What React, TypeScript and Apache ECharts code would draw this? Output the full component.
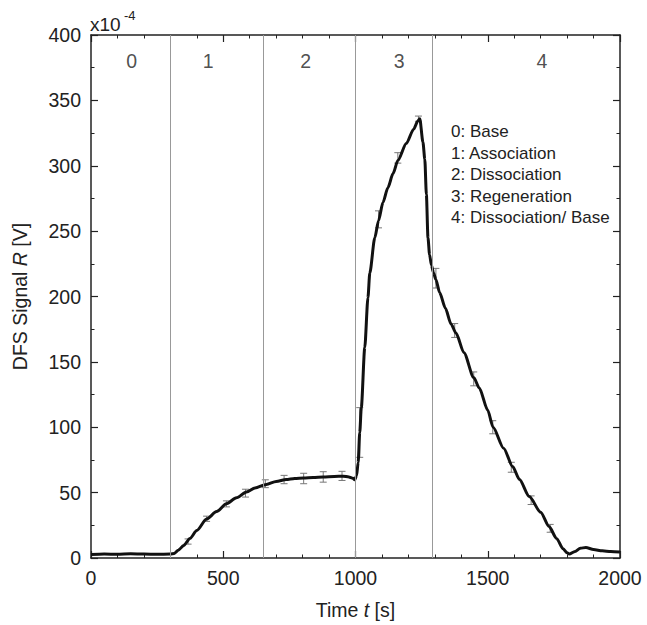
import React, { useEffect, useRef } from 'react';
import * as echarts from 'echarts';

// Time t [s] and DFS signal R [x10^-4 V] along the measured curve
const curveT = [
  0, 50, 100, 150, 200, 250, 300, 315, 330, 350, 374, 400, 437, 475, 512, 550, 588, 620,
  663, 700, 738, 770, 804, 840, 878, 920, 953, 975, 990, 997, 1004, 1010, 1016, 1022, 1035,
  1047, 1054, 1073, 1087, 1104, 1122, 1142, 1160, 1192, 1220, 1235, 1243, 1255, 1262, 1268,
  1274, 1280, 1287, 1295, 1304, 1318, 1340, 1361, 1380, 1410, 1447, 1468, 1500, 1520, 1560,
  1594, 1620, 1657, 1700, 1732, 1760, 1785, 1800, 1808, 1830, 1850, 1871, 1900, 1933, 1965, 2000,
];
const curveR = [
  2.6, 3.0, 2.8, 3.2, 3.0, 2.8, 3.0, 3.5, 6, 9.5, 15, 21, 29.8, 35.5, 41.5, 46, 50.5, 53.5,
  56.3, 58.5, 60, 60.8, 61.1, 61.5, 62, 62.4, 62.6, 62, 61, 59.8, 63, 73, 96, 115, 161,
  199, 218, 245, 258, 272, 283, 294, 304, 317, 328, 334, 336, 318, 305, 278,
  245, 232, 224, 218, 213, 203, 191, 179, 172, 157, 138, 130, 113, 100, 84,
  70, 60, 47, 35, 24, 15, 7, 4, 3, 5, 7.5, 8, 6.5, 5.5, 5, 4.5,
];

// Error bars: time, mean, half-range
const errT = [367, 437, 512, 584, 659, 730, 804, 878, 949, 1016, 1087, 1160, 1238, 1304, 1375, 1447, 1519, 1589, 1664, 1736];
const errMean = [12.6, 30, 41.4, 49.6, 56.8, 60, 60.8, 62, 62.8, 96, 259, 306, 336, 214, 174, 137, 100, 69.4, 44.2, 22.7];
const errDev = [2, 2, 2.3, 3, 3, 3.2, 4, 4, 3.5, 19, 6.5, 4, 2, 7.5, 5.3, 5.3, 5, 3.8, 3.3, 3];

// Phase boundaries and labels
const phaseBoundaries = [300, 650, 1000, 1290];
const phaseLabelT = [154, 443, 812, 1165, 1705];
const phaseLabels = ['0', '1', '2', '3', '4'];
const phaseLabelR = 380;

const legendLines = ['0: Base', '1: Association', '2: Dissociation', '3: Regeneration', '4: Dissociation/ Base'];

const X_MIN = 0, X_MAX = 2000, X_INT = 500;
const Y_MIN = 0, Y_MAX = 400, Y_INT = 50;

const FONT = "'Liberation Sans', Arial, Helvetica, sans-serif";
const TEXT = '#222';
const TICK_FS = 19.5;

export default function App() {
  const ref = useRef<HTMLDivElement>(null);
  useEffect(() => {
    if (!ref.current) return;
    const chart = echarts.init(ref.current, null, { renderer: 'svg' });
    const axisLine = { show: true, onZero: false, lineStyle: { color: '#222', width: 1.5 } };
    const xBase = {
      type: 'value' as const, min: X_MIN, max: X_MAX, interval: X_INT,
      axisLine,
      axisTick: { show: true, inside: true, length: 7, lineStyle: { color: '#222', width: 1.2 } },
      minorTick: { show: true, splitNumber: 5, length: 3.5, lineStyle: { color: '#222', width: 1 } },
      splitLine: { show: false },
    };
    const yBase = {
      type: 'value' as const, min: Y_MIN, max: Y_MAX, interval: Y_INT,
      axisLine,
      axisTick: { show: true, inside: true, length: 7, lineStyle: { color: '#222', width: 1.2 } },
      minorTick: { show: true, splitNumber: 2, length: 3.5, lineStyle: { color: '#222', width: 1 } },
      splitLine: { show: false },
    };
    const option: any = {
      animation: false,
      backgroundColor: '#fff',
      textStyle: { fontFamily: FONT },
      grid: { left: 91, right: 27, top: 35, bottom: 62 },
      xAxis: [
        {
          ...xBase, position: 'bottom',
          axisLabel: {
            show: true, fontSize: TICK_FS, color: TEXT, margin: 10, fontFamily: FONT,
            formatter: (v: number) => String(v),
          },
          name: '{n|Time }{i|t}{n| [s]}', nameLocation: 'middle', nameGap: 42,
          nameTextStyle: {
            rich: {
              n: { fontSize: 19.5, color: TEXT, fontFamily: FONT },
              i: { fontSize: 19.5, color: TEXT, fontFamily: FONT, fontStyle: 'italic' },
            },
          },
        },
        { ...xBase, position: 'top', axisLabel: { show: false } },
      ],
      yAxis: [
        {
          ...yBase, position: 'left',
          axisLabel: {
            show: true, fontSize: TICK_FS, color: TEXT, margin: 10, fontFamily: FONT,
            formatter: (v: number) => String(v),
          },
          name: '{n|DFS Signal }{i|R}{n| [V]}', nameLocation: 'middle', nameGap: 61,
          nameTextStyle: {
            rich: {
              n: { fontSize: 19.5, color: TEXT, fontFamily: FONT },
              i: { fontSize: 19.5, color: TEXT, fontFamily: FONT, fontStyle: 'italic' },
            },
          },
        },
        { ...yBase, position: 'right', axisLabel: { show: false } },
      ],
      graphic: [
        { type: 'text', left: 90, top: 15, style: { text: 'x10', font: `19px ${FONT}`, fill: TEXT } },
        { type: 'text', left: 124, top: 9, style: { text: '-4', font: `13px ${FONT}`, fill: TEXT } },
        {
          type: 'text', left: 451, top: 121,
          style: { text: legendLines.join('\n'), font: `17px ${FONT}`, lineHeight: 21.5, fill: TEXT },
        },
      ],
      series: [
        {
          type: 'custom',
          xAxisIndex: 0, yAxisIndex: 0,
          data: errT.map((t, i) => [t, errMean[i], errDev[i]]),
          encode: { x: 0, y: 1 },
          silent: true,
          renderItem: (params: any, api: any) => {
            const t = api.value(0), m = api.value(1), e = api.value(2);
            const top = api.coord([t, m + e]);
            const bot = api.coord([t, m - e]);
            const w = 3.5;
            const style = { stroke: '#777', lineWidth: 1 };
            return {
              type: 'group',
              children: [
                { type: 'line', shape: { x1: top[0], y1: top[1], x2: bot[0], y2: bot[1] }, style },
                { type: 'line', shape: { x1: top[0] - w, y1: top[1], x2: top[0] + w, y2: top[1] }, style },
                { type: 'line', shape: { x1: bot[0] - w, y1: bot[1], x2: bot[0] + w, y2: bot[1] }, style },
              ],
            };
          },
          z: 2,
        },
        {
          type: 'line',
          xAxisIndex: 0, yAxisIndex: 0,
          data: curveT.map((t, i) => [t, curveR[i]]),
          showSymbol: false,
          smooth: 0.25,
          smoothMonotone: 'x',
          lineStyle: { color: '#111', width: 3 },
          silent: true,
          z: 3,
          markLine: {
            silent: true,
            symbol: 'none',
            label: { show: false },
            lineStyle: { color: '#999', width: 1, type: 'solid' },
            data: phaseBoundaries.map((x) => ({ xAxis: x })),
          },
        },
        {
          type: 'scatter',
          xAxisIndex: 0, yAxisIndex: 0,
          symbolSize: 0,
          silent: true,
          data: phaseLabelT.map((t, i) => ({ value: [t, phaseLabelR], name: phaseLabels[i] })),
          label: {
            show: true, position: 'inside', formatter: (p: any) => p.name,
            fontSize: 19.5, color: TEXT, fontFamily: FONT,
          },
        },
      ],
    };
    chart.setOption(option);
    return () => chart.dispose();
  }, []);
  return (
    <div
      ref={ref}
      style={{ position: 'fixed', left: 0, top: 0, width: 647, height: 625, background: '#fff' }}
    />
  );
}
